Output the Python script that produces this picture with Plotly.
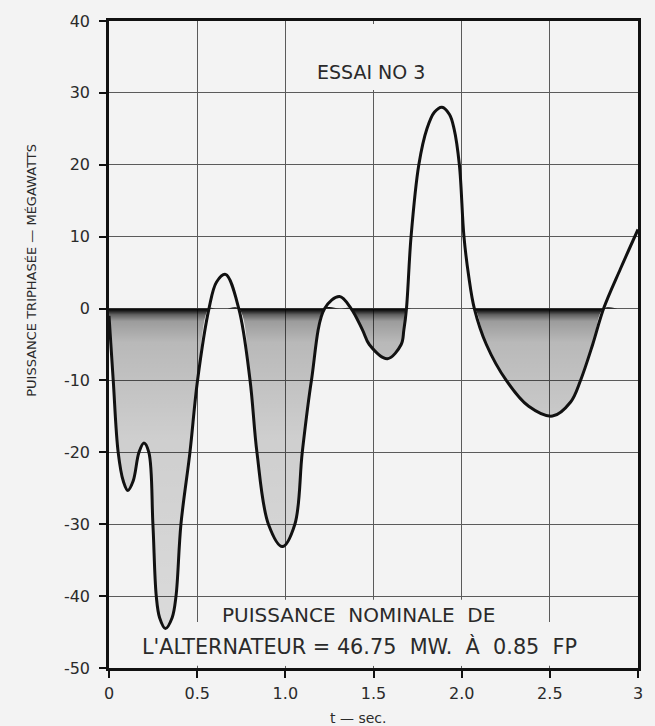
import plotly.graph_objects as go
import numpy as np

# Time (s) and three-phase power (MW)
t_sec = [0, 0.024, 0.052, 0.081, 0.107, 0.137, 0.17, 0.198, 0.226, 0.249,
         0.268, 0.287, 0.32, 0.358, 0.38, 0.408, 0.459, 0.502, 0.567, 0.61,
         0.661, 0.736, 0.80, 0.839, 0.904, 0.983, 1.054,
         1.096, 1.148, 1.223, 1.307, 1.373, 1.438, 1.476, 1.579,
         1.657, 1.672, 1.687, 1.713, 1.757, 1.803, 1.845, 1.888,
         1.931, 1.957, 1.987, 2.013, 2.04, 2.072, 2.14, 2.253, 2.38,
         2.515, 2.618, 2.674, 2.743, 2.805, 2.9, 3.0]
power_mw = [-1, -10, -20, -24, -25.3, -24, -20, -18.7, -20, -30,
            -40, -43, -44.5, -43, -40, -30, -20, -10, 0, 3.7,
            4.75, 0, -10, -20, -30, -33.1, -30,
            -20, -10, 0, 1.66, 0, -3, -5, -6.97,
            -5, -3, 0, 10, 20, 25, 27.3, 28,
            27, 25, 20, 10, 4.5, 0, -5, -10, -13.6,
            -14.96, -13, -10, -5, 0, 5.5, 11]

x_tickvals = [0, 0.5, 1.0, 1.5, 2.0, 2.5, 3]
x_ticktext = ["0", "0.5", "1.0", "1.5", "2.0", "2.5", "3"]
y_tickvals = [-50, -40, -30, -20, -10, 0, 10, 20, 30, 40]
y_ticktext = ["-50", "-40", "-30", "-20", "-10", "0", "10", "20", "30", "40"]

title_text = "ESSAI NO 3"
note_line1 = "PUISSANCE  NOMINALE  DE"
note_line2 = "L'ALTERNATEUR = 46.75  MW.  À  0.85  FP"
x_title = "t — sec."
y_title = "PUISSANCE TRIPHASÉE — MÉGAWATTS"

BG = "#f3f3f3"
FONT = "DejaVu Sans"
INK = "#2a2a2a"

neg_part = np.minimum(np.array(power_mw, dtype=float), 0.0)

fig = go.Figure()

# shaded area where the power is negative (dark band just under the zero line)
fig.add_trace(go.Scatter(
    x=t_sec, y=neg_part, mode="lines",
    line=dict(width=0, shape="spline", color="rgba(0,0,0,0)"),
    fill="tozeroy",
    fillgradient=dict(
        type="vertical", start=-45, stop=0,
        colorscale=[[0, "rgba(0,0,0,0.10)"], [0.6, "rgba(0,0,0,0.15)"],
                    [0.9, "rgba(0,0,0,0.24)"], [0.965, "rgba(0,0,0,0.36)"],
                    [0.985, "rgba(0,0,0,0.6)"], [1, "rgba(0,0,0,0.95)"]],
    ),
    hoverinfo="skip", showlegend=False,
))

# the power curve
fig.add_trace(go.Scatter(
    x=t_sec, y=power_mw, mode="lines",
    line=dict(color="#111111", width=3, shape="spline", smoothing=1.0),
    showlegend=False,
))

# masks that hide grid lines behind the lettering (drawn between grid and traces)
mask = dict(type="rect", layer="between", fillcolor=BG, line=dict(width=0))
fig.add_shape(x0=1.44, x1=1.56, y0=30.4, y1=39.6, xref="x", yref="y", **mask)
fig.add_shape(x0=0.6, x1=2.4, y0=-49.7, y1=-40.5, xref="x", yref="y", **mask)
fig.add_shape(x0=0.1, x1=2.9, y0=-49.7, y1=-43.6, xref="x", yref="y", **mask)

fig.add_annotation(text=title_text, x=1.483, y=32.9, xref="x", yref="y",
                   xanchor="center", yanchor="middle", showarrow=False,
                   font=dict(family=FONT, size=19, color=INK))
fig.add_annotation(text=note_line1, x=1.416, y=-42.6, xref="x", yref="y",
                   xanchor="center", yanchor="middle", showarrow=False,
                   font=dict(family=FONT, size=20, color=INK))
fig.add_annotation(text=note_line2, x=1.42, y=-47.0, xref="x", yref="y",
                   xanchor="center", yanchor="middle", showarrow=False,
                   font=dict(family=FONT, size=20.8, color=INK))
fig.add_annotation(text=x_title, x=0.47, y=-0.077, xref="paper", yref="paper",
                   xanchor="center", yanchor="middle", showarrow=False,
                   font=dict(family=FONT, size=14, color=INK))
fig.add_annotation(text=y_title, x=-0.148, y=0.615, xref="paper", yref="paper",
                   xanchor="center", yanchor="middle", textangle=-90,
                   showarrow=False, font=dict(family=FONT, size=13, color=INK))

axis_common = dict(
    showline=True, mirror=True, linecolor="#111111", linewidth=2.5,
    showgrid=True, gridcolor="#5a5a5a", gridwidth=1,
    ticks="outside", ticklen=7, tickwidth=1.5, tickcolor="#111111",
    tickfont=dict(family=FONT, size=16, color=INK),
)

fig.update_xaxes(range=[0, 3], tickvals=x_tickvals, ticktext=x_ticktext,
                 zeroline=False, ticklabelstandoff=2, **axis_common)
fig.update_yaxes(range=[-50, 40], tickvals=y_tickvals, ticktext=y_ticktext,
                 zeroline=False, ticklabelstandoff=6, **axis_common)

fig.update_layout(
    width=655, height=726,
    margin=dict(l=109, r=12, t=18, b=58),
    paper_bgcolor=BG, plot_bgcolor=BG,
    font=dict(family=FONT, color=INK),
)

fig.write_html("out.html",
               config={"displayModeBar": False},
               post_script="document.body.style.margin='0';"
                           "document.body.style.background='" + BG + "';")
